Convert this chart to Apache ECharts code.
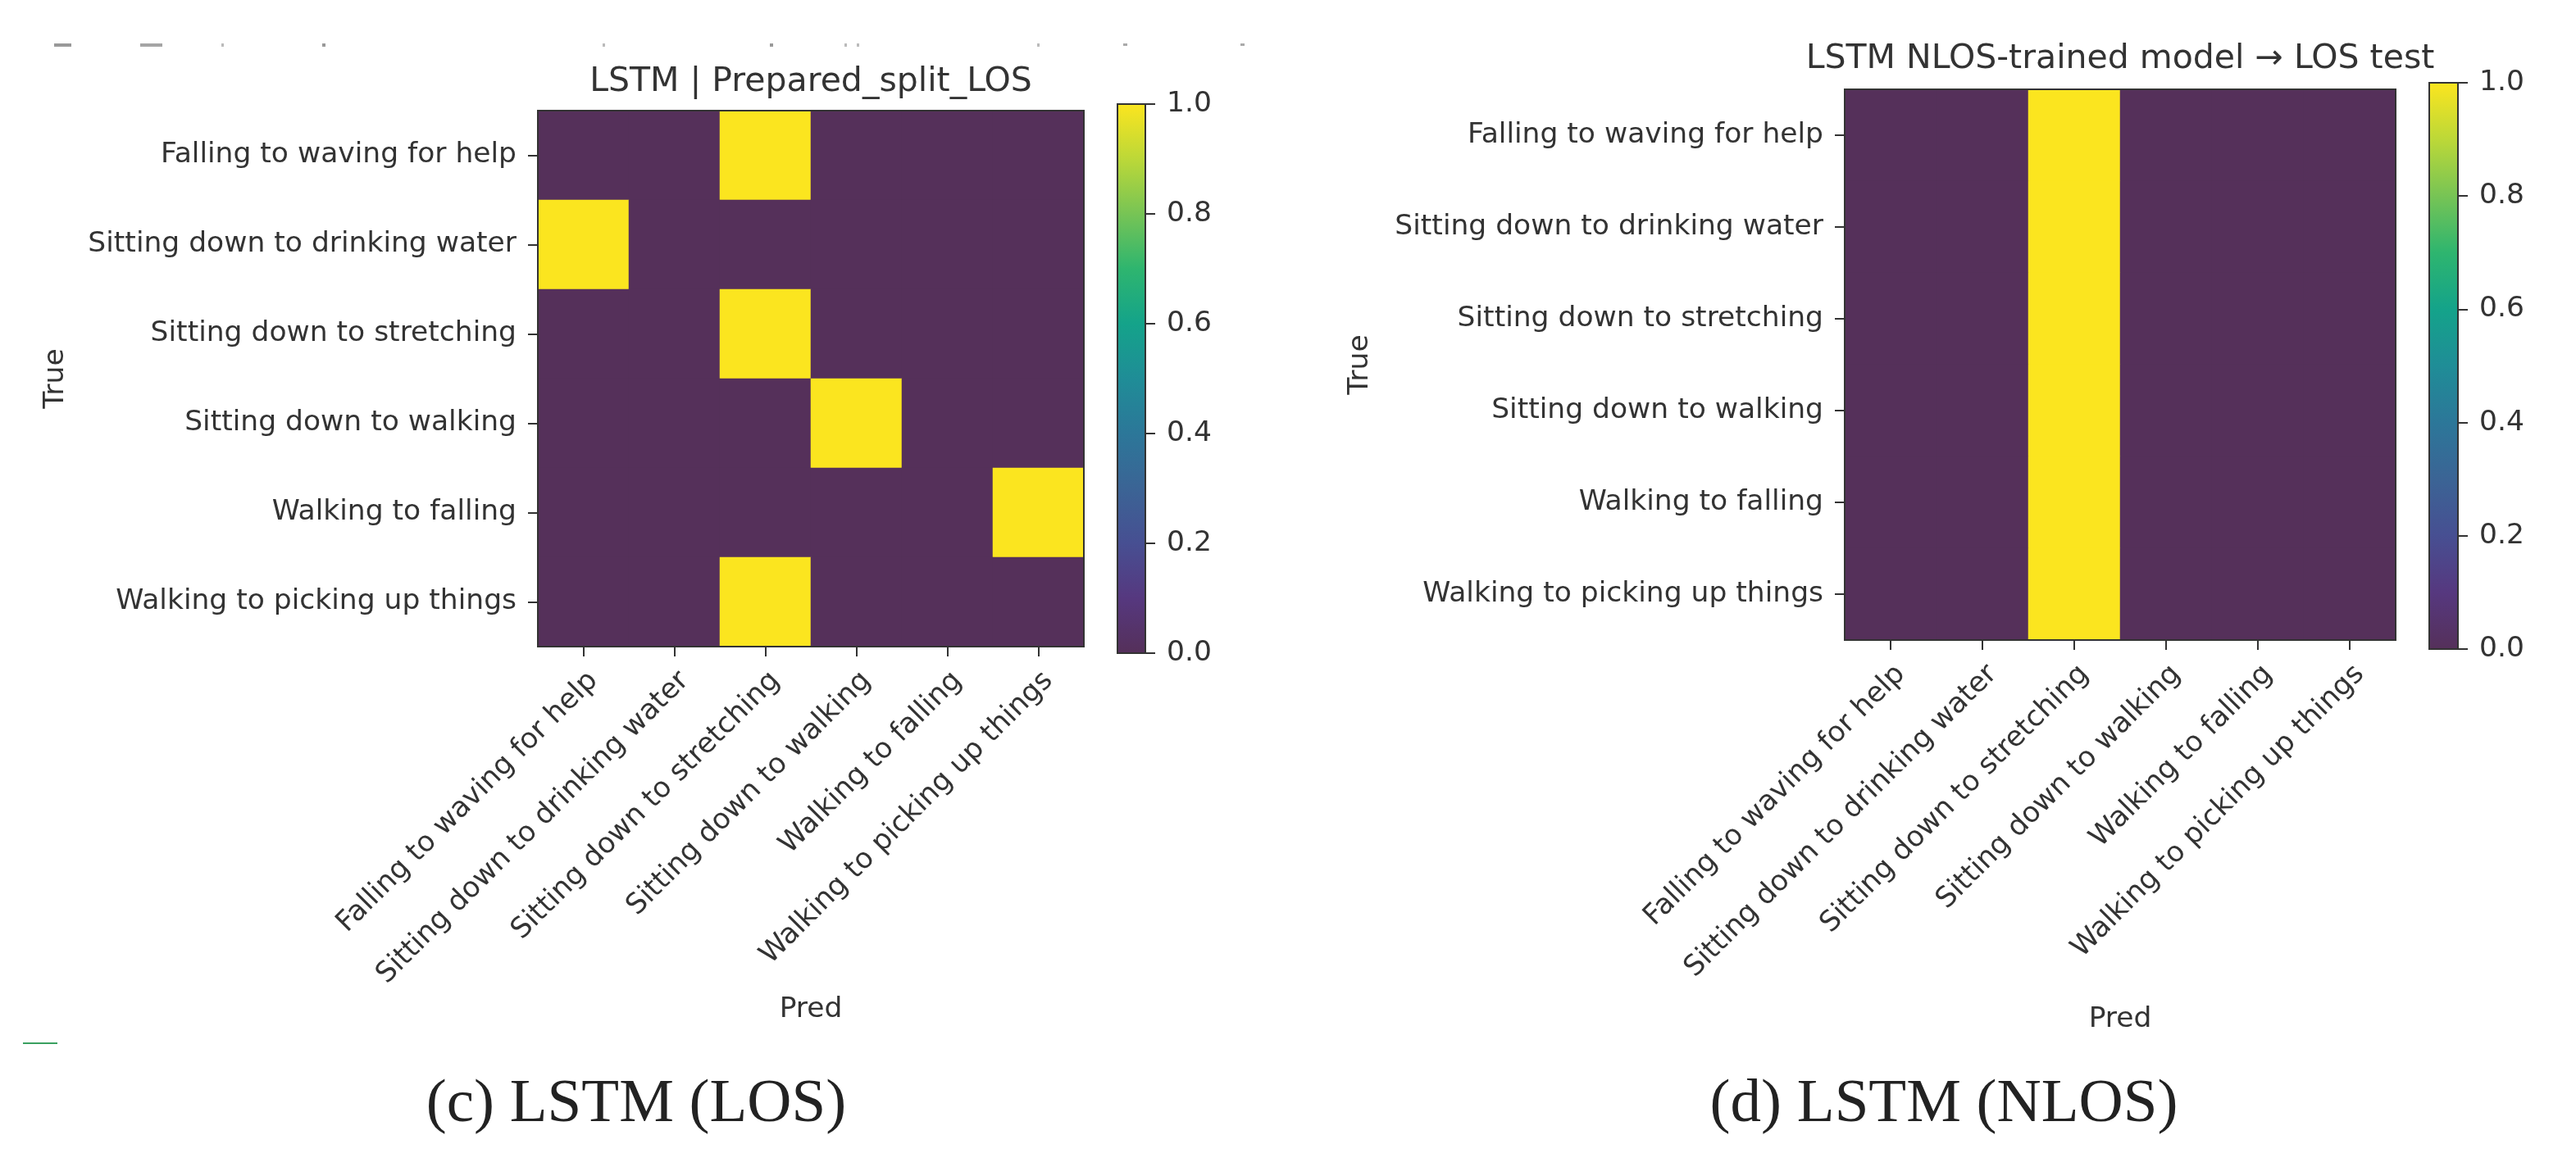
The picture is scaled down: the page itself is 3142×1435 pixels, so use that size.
<!DOCTYPE html>
<html>
<head>
<meta charset="utf-8">
<script src="https://cdn.jsdelivr.net/npm/echarts@6/dist/echarts.min.js"></script>
<style>
html,body{margin:0;padding:0;background:#ffffff;}
#chart{width:3142px;height:1435px;}
</style>
</head>
<body>
<div id="chart"></div>
<script>
// ---------------- data ----------------
const classes = [
  'Falling to waving for help',
  'Sitting down to drinking water',
  'Sitting down to stretching',
  'Sitting down to walking',
  'Walking to falling',
  'Walking to picking up things'
];
// rows = True, columns = Pred
const losMatrix = [
  [0, 0, 1, 0, 0, 0],
  [1, 0, 0, 0, 0, 0],
  [0, 0, 1, 0, 0, 0],
  [0, 0, 0, 1, 0, 0],
  [0, 0, 0, 0, 0, 1],
  [0, 0, 1, 0, 0, 0]
];
const nlosMatrix = [
  [0, 0, 1, 0, 0, 0],
  [0, 0, 1, 0, 0, 0],
  [0, 0, 1, 0, 0, 0],
  [0, 0, 1, 0, 0, 0],
  [0, 0, 1, 0, 0, 0],
  [0, 0, 1, 0, 0, 0]
];
const colorbarMin = 0;
const colorbarMax = 1;
const colorbarStep = 0.2;
const panelTitles = ['LSTM | Prepared_split_LOS', 'LSTM NLOS-trained model \u2192 LOS test'];
const captions = ['(c) LSTM (LOS)', '(d) LSTM (NLOS)'];
const xName = 'Pred';
const yName = 'True';

// ---------------- style ----------------
const viridis = ['#55305a', '#56387f', '#474f92', '#3b6495', '#2c7799', '#1f8d97',
                 '#14a38a', '#2eb56f', '#77c455', '#bcd838', '#fbe51f'];
const FONT = 'DejaVu Sans';
const TXT = '#333333';
const FS = 34.5;

function toCells(m) {
  const out = [];
  m.forEach((row, r) => row.forEach((v, c) => out.push([c, r, v])));
  return out;
}

const panels = [
  { grid: { left: 656, top: 135, width: 666, height: 654 },
    cbar: { left: 1363, top: 127, width: 34, height: 670 },
    nameGapX: 426, nameGapY: 570, matrix: losMatrix },
  { grid: { left: 2250, top: 109, width: 672, height: 672 },
    cbar: { left: 2963, top: 101, width: 35, height: 691 },
    nameGapX: 446, nameGapY: 573, matrix: nlosMatrix }
];

const grids = [], xAxes = [], yAxes = [], series = [], visualMaps = [];
const frame = { show: true, z: 10, backgroundColor: 'transparent', borderColor: '#333', borderWidth: 2 };

panels.forEach((p, i) => {
  const gi = grids.length;
  grids.push(Object.assign({ containLabel: false, outerBoundsMode: 'none' }, frame, p.grid));
  xAxes.push({
    type: 'category', gridIndex: gi, data: classes,
    axisLine: { show: true, lineStyle: { color: '#333', width: 2 } },
    axisTick: { show: true, alignWithLabel: true, length: 12, lineStyle: { color: '#333', width: 2 } },
    axisLabel: { interval: 0, rotate: 45, align: 'right', verticalAlign: 'top', margin: 24,
                 fontFamily: FONT, fontSize: FS, color: TXT },
    splitLine: { show: false },
    name: xName, nameLocation: 'middle', nameGap: p.nameGapX,
    nameTextStyle: { fontFamily: FONT, fontSize: FS, color: TXT }
  });
  yAxes.push({
    type: 'category', gridIndex: gi, data: classes, inverse: true,
    axisLine: { show: true, lineStyle: { color: '#333', width: 2 } },
    axisTick: { show: true, alignWithLabel: true, length: 12, lineStyle: { color: '#333', width: 2 } },
    axisLabel: { interval: 0, margin: 26, fontFamily: FONT, fontSize: FS, color: TXT },
    splitLine: { show: false },
    name: yName, nameLocation: 'middle', nameGap: p.nameGapY, nameRotate: 90,
    nameTextStyle: { fontFamily: FONT, fontSize: FS, color: TXT }
  });
  series.push({
    type: 'heatmap', xAxisIndex: gi, yAxisIndex: gi, data: toCells(p.matrix),
    itemStyle: { borderWidth: 0 }, emphasis: { disabled: true }, silent: true
  });
  visualMaps.push({
    type: 'continuous', show: false, min: colorbarMin, max: colorbarMax,
    seriesIndex: series.length - 1, inRange: { color: viridis }
  });
});

// colorbars
panels.forEach((p, i) => {
  const gi = grids.length;
  grids.push(Object.assign({ containLabel: false, outerBoundsMode: 'none' }, frame, p.cbar));
  xAxes.push({ type: 'category', gridIndex: gi, data: ['cb'], show: false, boundaryGap: true });
  yAxes.push({
    type: 'value', gridIndex: gi, position: 'right', min: colorbarMin, max: colorbarMax, interval: colorbarStep,
    axisLine: { show: true, lineStyle: { color: '#333', width: 2 } },
    axisTick: { show: true, length: 12, lineStyle: { color: '#333', width: 2 } },
    axisLabel: { margin: 26, fontFamily: FONT, fontSize: FS, color: TXT, formatter: v => v.toFixed(1) },
    splitLine: { show: false }
  });
  series.push({
    type: 'bar', xAxisIndex: gi, yAxisIndex: gi, data: [colorbarMax], barWidth: '100%', silent: true,
    itemStyle: {
      color: {
        type: 'linear', x: 0, y: 1, x2: 0, y2: 0,
        colorStops: viridis.map((c, k) => ({ offset: k / (viridis.length - 1), color: c }))
      }
    }
  });
});

const graphics = [
  { type: 'text', x: 989, y: 100, style: { text: panelTitles[0], font: '41px "DejaVu Sans"', fill: TXT, textAlign: 'center', textVerticalAlign: 'middle' } },
  { type: 'text', x: 2586, y: 72, style: { text: panelTitles[1], font: '41px "DejaVu Sans"', fill: TXT, textAlign: 'center', textVerticalAlign: 'middle' } },
  { type: 'text', x: 776, y: 1348, style: { text: captions[0], font: '75px "Liberation Serif"', fill: '#222', textAlign: 'center', textVerticalAlign: 'middle' } },
  { type: 'text', x: 2371, y: 1348, style: { text: captions[1], font: '75px "Liberation Serif"', fill: '#222', textAlign: 'center', textVerticalAlign: 'middle' } },
  // cropped-off remnants at top & small green dash
  { type: 'rect', shape: { x: 66, y: 53, width: 21, height: 4 }, style: { fill: '#999' } },
  { type: 'rect', shape: { x: 171, y: 53, width: 27, height: 4 }, style: { fill: '#a5a5a5' } },
  { type: 'rect', shape: { x: 270, y: 53, width: 3, height: 4 }, style: { fill: '#bbb' } },
  { type: 'rect', shape: { x: 393, y: 53, width: 4, height: 4 }, style: { fill: '#999' } },
  { type: 'rect', shape: { x: 735, y: 53, width: 3, height: 4 }, style: { fill: '#bbb' } },
  { type: 'rect', shape: { x: 939, y: 53, width: 4, height: 4 }, style: { fill: '#999' } },
  { type: 'rect', shape: { x: 1030, y: 53, width: 3, height: 4 }, style: { fill: '#bbb' } },
  { type: 'rect', shape: { x: 1045, y: 53, width: 3, height: 4 }, style: { fill: '#bbb' } },
  { type: 'rect', shape: { x: 1265, y: 53, width: 3, height: 4 }, style: { fill: '#bbb' } },
  { type: 'rect', shape: { x: 1370, y: 53, width: 5, height: 3 }, style: { fill: '#aaa' } },
  { type: 'rect', shape: { x: 1513, y: 53, width: 5, height: 3 }, style: { fill: '#aaa' } },
  { type: 'rect', shape: { x: 28, y: 1272, width: 42, height: 2 }, style: { fill: '#3aa060' } }
];

const chart = echarts.init(document.getElementById('chart'), null, { renderer: 'canvas' });
chart.setOption({
  backgroundColor: '#ffffff',
  animation: false,
  tooltip: { show: false },
  grid: grids,
  xAxis: xAxes,
  yAxis: yAxes,
  visualMap: visualMaps,
  series: series,
  graphic: graphics
});
</script>
</body>
</html>
